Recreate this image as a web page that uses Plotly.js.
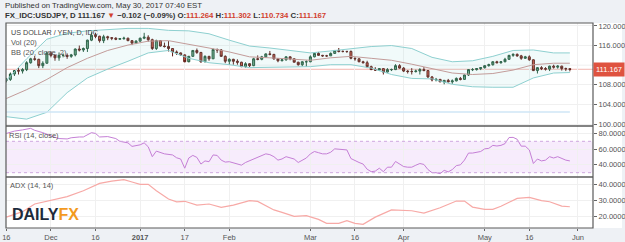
<!DOCTYPE html>
<html><head><meta charset="utf-8">
<script src="https://cdn.plot.ly/plotly-3.0.1.min.js"></script>
<style>html,body{margin:0;padding:0;background:#eef1f5;}#chart{width:625px;height:242px;}</style>
</head><body><div id="chart"></div>
<script>
// ---- DATA (USDJPY daily, Nov 16 2016 -> May 30 2017, weekdays) ----
const opens = [108.9,109.1,110.2,110.9,110.8,111.1,112.5,113.3,113.2,111.9,
112.4,114.5,114.0,113.5,114.0,114.0,113.8,114.1,115.3,115.1,
115.4,117.1,118.1,117.9,117.0,117.8,117.6,117.5,117.3,117.4,
117.5,117.0,116.5,116.9,117.5,117.7,117.2,115.4,117.0,115.9,
115.8,115.4,114.7,114.5,114.1,112.7,113.8,115.0,114.6,112.7,
113.8,113.3,115.2,115.1,113.8,112.8,113.2,112.8,112.6,111.7,
112.3,111.9,113.3,113.2,113.7,114.3,114.2,113.3,112.9,113.1,
113.7,113.3,112.6,112.1,112.7,112.7,113.7,114.4,114.0,113.9,
113.9,114.4,115.0,114.8,114.8,114.8,113.4,113.3,112.7,112.5,
111.7,111.1,111.0,111.3,110.6,111.1,111.1,111.9,111.4,110.8,
110.7,110.7,110.8,111.1,110.9,109.6,109.0,109.1,108.6,108.9,
108.6,108.8,109.3,109.1,110.0,111.1,111.1,111.3,111.5,111.9,
112.1,112.7,112.5,112.7,113.2,114.0,114.2,113.9,113.4,113.7,
113.1,110.9,111.5,111.3,111.2,111.8,111.6,111.8,111.3,111.264];
const highs = [109.4,110.5,111.0,111.4,111.4,112.8,113.5,113.9,113.3,112.8,
114.8,114.8,114.2,114.6,114.4,114.4,114.3,115.4,116.0,115.6,
117.2,118.7,118.6,118.0,118.2,118.0,117.7,117.7,117.5,117.8,
117.6,117.1,117.1,117.6,118.6,118.1,117.4,117.2,117.1,116.6,
116.9,115.5,115.0,114.6,114.2,113.9,115.1,115.4,114.7,114.0,
113.9,115.4,115.4,115.3,114.0,113.4,113.3,113.2,112.7,112.6,
112.4,113.5,114.0,113.9,114.4,114.9,114.3,113.4,113.3,113.8,
113.8,113.4,112.7,112.8,113.0,114.0,114.5,114.7,114.1,114.1,
114.6,115.1,115.5,115.0,114.9,115.0,113.6,113.4,112.9,112.9,
111.9,111.6,111.4,111.4,111.4,111.3,112.2,112.2,111.6,111.0,
111.4,111.1,111.4,111.6,111.0,109.8,109.4,109.2,109.0,109.2,
109.1,109.5,109.6,110.1,111.2,111.4,111.4,111.6,112.0,112.3,
112.8,112.9,112.8,113.5,114.1,114.4,114.4,114.1,113.9,114.0,
113.2,111.6,111.8,111.6,111.9,112.1,112.0,111.9,111.5,111.302];
const lows = [108.5,108.8,109.8,110.1,110.3,110.8,112.3,112.9,111.4,111.4,
112.3,113.6,112.9,112.9,113.6,113.3,113.5,113.8,114.8,114.7,
114.7,116.9,117.5,116.6,116.5,117.1,117.1,117.1,117.2,117.2,
116.9,116.1,116.3,116.8,117.3,116.8,115.1,115.1,115.8,115.6,
114.8,113.8,114.1,113.9,112.6,112.6,113.7,114.3,112.5,112.6,
112.9,113.3,114.5,113.7,112.4,112.1,112.1,112.1,111.6,111.5,
111.6,111.8,113.0,113.0,113.5,114.0,113.1,112.6,112.8,112.9,
113.0,112.6,111.9,111.8,111.7,112.6,113.6,113.9,113.7,113.7,
113.9,114.3,114.6,114.6,114.5,113.2,112.9,112.6,112.4,111.4,
111.0,110.9,110.9,110.1,110.5,110.8,111.0,111.3,110.6,110.3,
110.1,110.5,110.1,110.8,109.4,108.7,108.7,108.6,108.1,108.5,
108.2,108.7,108.9,109.1,109.8,110.8,110.9,111.0,111.3,111.7,
111.9,112.4,112.3,112.6,113.1,113.7,113.7,113.1,113.3,112.9,
110.8,110.3,111.0,110.9,110.8,111.3,111.3,110.9,110.8,110.734];
const closes = [109.1,110.2,110.9,110.8,111.1,112.5,113.3,113.2,111.9,112.4,
114.5,114.0,113.5,114.0,114.0,113.8,114.1,115.3,115.1,115.4,
117.1,118.1,117.9,117.0,117.8,117.6,117.5,117.3,117.4,117.5,
117.0,116.5,116.9,117.5,117.7,117.2,115.4,117.0,115.9,115.8,
115.4,114.7,114.5,114.1,112.7,113.8,115.0,114.6,112.7,113.8,
113.3,115.2,115.1,113.8,112.8,113.2,112.8,112.6,111.7,112.3,
111.9,113.3,113.2,113.7,114.3,114.2,113.3,112.9,113.1,113.7,
113.3,112.6,112.1,112.7,112.7,113.7,114.4,114.0,113.9,113.9,
114.4,115.0,114.8,114.8,114.8,113.4,113.3,112.7,112.5,111.7,
111.1,111.0,111.3,110.6,111.1,111.1,111.9,111.4,110.8,110.7,
110.7,110.8,111.1,110.9,109.6,109.0,109.1,108.6,108.9,108.6,
108.8,109.3,109.1,110.0,111.1,111.1,111.3,111.5,111.9,112.1,
112.7,112.5,112.7,113.2,114.0,114.2,113.9,113.4,113.7,113.1,
110.9,111.5,111.3,111.2,111.8,111.6,111.8,111.3,111.269,111.167];

// Bollinger Bands (20, close, 2) read at sample bars
const bbBars  = [0,5,10,15,20,25,30,35,40,45,50,55,60,65,70,75,80,85,90,95,100,105,110,115,120,125,130,135,139];
const bbUpper = [108.9,113.3,117.3,118.5,119.0,119.3,119.5,119.5,119.1,119.0,118.4,117.1,115.9,115.5,115.0,114.5,114.9,115.4,115.8,116.0,115.4,113.6,112.7,112.9,113.8,115.0,115.1,114.5,114.5];
const bbMid   = [105.2,107.0,109.1,111.5,113.4,115.0,116.1,116.9,117.0,116.3,115.5,114.7,113.7,113.5,113.3,113.0,113.5,113.8,113.4,113.0,112.2,111.3,110.4,110.1,110.3,111.0,112.1,112.4,112.4];
const bbLower = [101.5,101.0,102.4,106.4,109.4,111.2,112.8,114.5,115.0,113.4,112.5,112.1,111.5,111.6,111.7,111.7,112.1,112.1,111.4,110.1,109.3,109.2,108.1,107.6,107.5,107.5,109.4,110.4,110.5];

// Volume (no volume for FX_IDC -> flat)
const volBars = [0,139];
const volVals = [0,0];

// RSI (14, close)
const rsiBars = [0,2,4,6,7,9,12,13,15,16,18,19,21,22,23,25,27,28,30,31,33,34,35,36,37,39,41,42,43,44,45,46,47,48,49,50,51,52,53,54,55,56,57,58,59,61,62,63,64,65,66,67,68,69,70,71,72,73,74,75,76,77,78,79,80,81,82,83,84,85,86,87,88,89,90,91,92,93,94,95,96,97,98,99,100,101,102,103,104,105,106,107,108,109,110,111,112,113,114,115,116,117,118,119,120,121,122,123,124,125,126,127,128,129,130,131,132,133,134,135,136,137,138,139];
const rsiVals = [80,83,84.5,86.5,84,81,75,73.5,73,74.5,75.5,75.5,81,80,75.5,76,73.5,70,68,63.5,65.5,68,63,50.4,57.5,54,52.6,49,47.4,35.7,48.7,52,49.5,41,45,44,52.6,52,46,43.5,44,42.5,41.5,39.6,43,47.4,48.7,51,54,53,50.4,46,47.5,50.4,49,47.4,43,46,48.7,54,57,55.5,54,54,56,60.4,60,59.5,59,48,45,43,41,34.4,31.3,32,35.7,31.3,37,37,44.3,41,37.8,37,37,39.5,41.7,40.5,34,30,30,28.7,33,31,34,39,40,46,55,55,56,57,60.4,61,64.8,64,64.8,67,74.8,75,72.6,63.8,63.8,59,41.7,47.4,45,46,50.4,48.7,50.4,48,46,45];

// ADX (14, 14)
const adxBars = [0,4,7,11,15,19,23,26,29,31,33,35,37,40,42,44,47,50,53,56,60,62,66,68,71,74,77,79,82,84,86,88,91,95,97,100,103,107,111,113,115,118,120,122,126,129,132,134,137,139];
const adxVals = [19.5,22.9,27.7,30.2,32.3,36,40.6,42,42.9,41.5,40,40,36,30.8,29.1,29.4,27,27.7,25.6,27,29.8,29.3,24,22.5,20,20.4,18.1,15.6,15.6,17.3,15.6,15,19.5,24,23.8,23.5,22,25.4,29.6,29.5,25.8,24.4,24.4,26.3,31.2,31.9,29.8,29.1,26.4,26];

const tickDates  = ['2016-11-16','2016-12-01','2016-12-16','2017-01-02','2017-01-17','2017-02-01','2017-03-01','2017-03-16','2017-04-03','2017-05-01','2017-05-16','2017-06-01'];
const tickLabels = ['16','Dec','16','<b>2017</b>','17','Feb','Mar','16','Apr','May','16','Jun'];
const priceTicks = [100,104,108,116,120];   // 112.000 sits under the last-price label
const priceHiddenGrid = 112;
const rsiTicks = [40,60,80];
const adxTicks = [20,30,40];

// ---- trading dates (weekdays) ----
const barDates = [];
{ const d = new Date(Date.UTC(2016,10,16));
  while (barDates.length < closes.length) {
    const wd = d.getUTCDay();
    if (wd !== 0 && wd !== 6) barDates.push(d.toISOString().slice(0,10));
    d.setUTCDate(d.getUTCDate()+1);
  } }
const at = arr => arr.map(i => barDates[i]);

const n = closes.length;
const last = n-1;
const chg = closes[last]-closes[last-1];
const pct = chg/closes[last-1]*100;
const fmt = (v,k) => v.toFixed(k).replace('-', '−');

// ---- layout helpers (pixel -> paper) ----
const L=6, R=593, T=23, B=228;
const px = X => (X-L)/(R-L);
const py = Y => (B-Y)/(B-T);
const FONT = "'Liberation Sans Narrow','Liberation Sans',Arial,sans-serif";
const GRID = '#f0f0f0';

const traces = [
  {x: at(bbBars), y: bbLower, type:'scatter', mode:'lines', line:{color:'#8ed0d0', width:1}, xaxis:'x', yaxis:'y', hoverinfo:'skip'},
  {x: at(bbBars), y: bbUpper, type:'scatter', mode:'lines', line:{color:'#8ed0d0', width:1}, fill:'tonexty', fillcolor:'rgba(150,215,215,0.13)', xaxis:'x', yaxis:'y', hoverinfo:'skip'},
  {x: at(bbBars), y: bbMid, type:'scatter', mode:'lines', line:{color:'#c39c9a', width:1}, xaxis:'x', yaxis:'y', hoverinfo:'skip'},
  {x: at(volBars), y: volVals, type:'scatter', mode:'lines', line:{color:'#cfe6f6', width:1.5}, xaxis:'x', yaxis:'y4', hoverinfo:'skip'},
  {x: barDates, open: opens, high: highs, low: lows, close: closes, type:'candlestick', xaxis:'x', yaxis:'y',
   increasing:{line:{color:'#225437', width:1}, fillcolor:'#6ba583'},
   decreasing:{line:{color:'#5b1a13', width:1}, fillcolor:'#d75442'}, hoverinfo:'skip'},
  {x: at(rsiBars), y: rsiVals, type:'scatter', mode:'lines', line:{color:'#c57fd6', width:1}, xaxis:'x', yaxis:'y2', hoverinfo:'skip'},
  {x: at(adxBars), y: adxVals, type:'scatter', mode:'lines', line:{color:'#f7a9a6', width:1.2}, xaxis:'x', yaxis:'y3', hoverinfo:'skip'}
];

const yCommon = {side:'right', anchor:'x', showgrid:true, gridcolor:GRID, zeroline:false, ticks:'outside', ticklen:3,
  tickcolor:'#666', tickfont:{size:7.5, color:'#555', family:FONT}, showline:false, fixedrange:true, tickmode:'array'};

const red = '#d23f2f';
const layout = {
  width:625, height:242,
  margin:{l:L, r:625-R, t:T, b:242-B, pad:0},
  paper_bgcolor:'#eef1f5', plot_bgcolor:'#ffffff',
  showlegend:false,
  font:{family:FONT, size:8, color:'#555'},
  xaxis:{type:'date', range:['2016-11-15 22:00','2017-06-06 17:00'], rangebreaks:[{bounds:['sat','mon']}],
    tickmode:'array', tickvals:tickDates, ticktext:tickLabels, showgrid:true, gridcolor:GRID,
    ticks:'outside', ticklen:2, tickcolor:'#666', tickfont:{size:7.5, color:'#555', family:FONT},
    showline:false, anchor:'y3', rangeslider:{visible:false}, fixedrange:true, zeroline:false},
  yaxis: Object.assign({}, yCommon, {domain:[py(126),1], range:[99.6,120.6], tickvals:priceTicks, tickformat:'.3f'}),
  yaxis2: Object.assign({}, yCommon, {domain:[py(177),py(126)], range:[24.5,89.5], tickvals:rsiTicks, tickformat:'.4f'}),
  yaxis3: Object.assign({}, yCommon, {domain:[0,py(177)], range:[12.7,44.6], tickvals:adxTicks, tickformat:'.4f'}),
  yaxis4: {overlaying:'y', anchor:'x', range:[-0.157,1], visible:false, fixedrange:true},
  shapes:[
    {type:'rect', xref:'paper', yref:'paper', x0:1, x1:px(622), y0:0, y1:1, fillcolor:'#ffffff', line:{width:0}, layer:'below'},
    {type:'line', xref:'paper', yref:'y', x0:0, x1:1, y0:priceHiddenGrid, y1:priceHiddenGrid, line:{color:GRID, width:1}, layer:'below'},
    {type:'rect', xref:'paper', yref:'y2', x0:0, x1:1, y0:30, y1:70, fillcolor:'rgba(200,130,235,0.15)', line:{width:0}, layer:'below'},
    {type:'line', xref:'paper', yref:'y2', x0:0, x1:1, y0:70, y1:70, line:{color:'#cfa8df', width:1, dash:'dot'}},
    {type:'line', xref:'paper', yref:'y2', x0:0, x1:1, y0:30, y1:30, line:{color:'#cfa8df', width:1, dash:'dot'}},
    {type:'line', xref:'paper', yref:'y', x0:0, x1:1, y0:closes[last], y1:closes[last], line:{color:'#f2b5af', width:1}, layer:'below'},
    {type:'rect', xref:'paper', yref:'paper', x0:0, x1:1, y0:0, y1:1, line:{color:'#5a5a5a', width:1.2}},
    {type:'line', xref:'paper', yref:'paper', x0:0, x1:1, y0:py(126), y1:py(126), line:{color:'#5a5a5a', width:1.5}},
    {type:'line', xref:'paper', yref:'paper', x0:0, x1:1, y0:py(177), y1:py(177), line:{color:'#5a5a5a', width:1.5}}
  ],
  annotations:[
    {xref:'paper', yref:'paper', x:px(3), y:py(6), xanchor:'left', yanchor:'middle', showarrow:false,
     text:'Published on TradingView.com, May 30, 2017 07:40 EST', font:{size:7.8, color:'#333', family:FONT}},
    {xref:'paper', yref:'paper', x:px(3), y:py(15.5), xanchor:'left', yanchor:'middle', showarrow:false,
     text:'<b>FX_IDC:USDJPY, D '+closes[last].toFixed(3)+' <span style="color:'+red+'">▼</span> '+fmt(chg,3)+' ('+fmt(pct,2)+'%) O:<span style="color:'+red+'">'+opens[last].toFixed(3)+'</span> H:<span style="color:'+red+'">'+highs[last].toFixed(3)+'</span> L:<span style="color:'+red+'">'+lows[last].toFixed(3)+'</span> C:<span style="color:'+red+'">'+closes[last].toFixed(3)+'</span></b>',
     font:{size:7.8, color:'#333', family:FONT}},
    {xref:'paper', yref:'paper', x:px(9), y:py(32.3), xanchor:'left', yanchor:'middle', showarrow:false, text:'US DOLLAR / YEN, D, IDC', font:{size:7.2, color:'#444', family:FONT}},
    {xref:'paper', yref:'paper', x:px(9), y:py(42.3), xanchor:'left', yanchor:'middle', showarrow:false, text:'Vol (20)', font:{size:7.5, color:'#555', family:FONT}},
    {xref:'paper', yref:'paper', x:px(9), y:py(52.3), xanchor:'left', yanchor:'middle', showarrow:false, text:'BB (20, close, 2)', font:{size:7.5, color:'#555', family:FONT}},
    {xref:'paper', yref:'paper', x:px(7), y:py(135), xanchor:'left', yanchor:'middle', showarrow:false, text:'RSI (14, close)', font:{size:7.5, color:'#555', family:FONT}},
    {xref:'paper', yref:'paper', x:px(8), y:py(185.7), xanchor:'left', yanchor:'middle', showarrow:false, text:'ADX (14, 14)', font:{size:7.5, color:'#555', family:FONT}},
    {xref:'paper', yref:'paper', x:px(10), y:py(214), xanchor:'left', yanchor:'middle', showarrow:false,
     text:'<b><span style="color:#1d2b3b">DAILY</span><span style="color:#f39a1e">FX</span></b>', font:{size:16, family:"'Liberation Sans',Arial,sans-serif"}},
    {xref:'paper', yref:'y', x:1, y:closes[last], xanchor:'left', yanchor:'middle', showarrow:false,
     text:closes[last].toFixed(3), bgcolor:'#df5340', borderpad:2, font:{size:7.5, color:'#ffffff', family:FONT}}
  ]
};

Plotly.newPlot('chart', traces, layout, {staticPlot:true, displayModeBar:false});
</script></body></html>
